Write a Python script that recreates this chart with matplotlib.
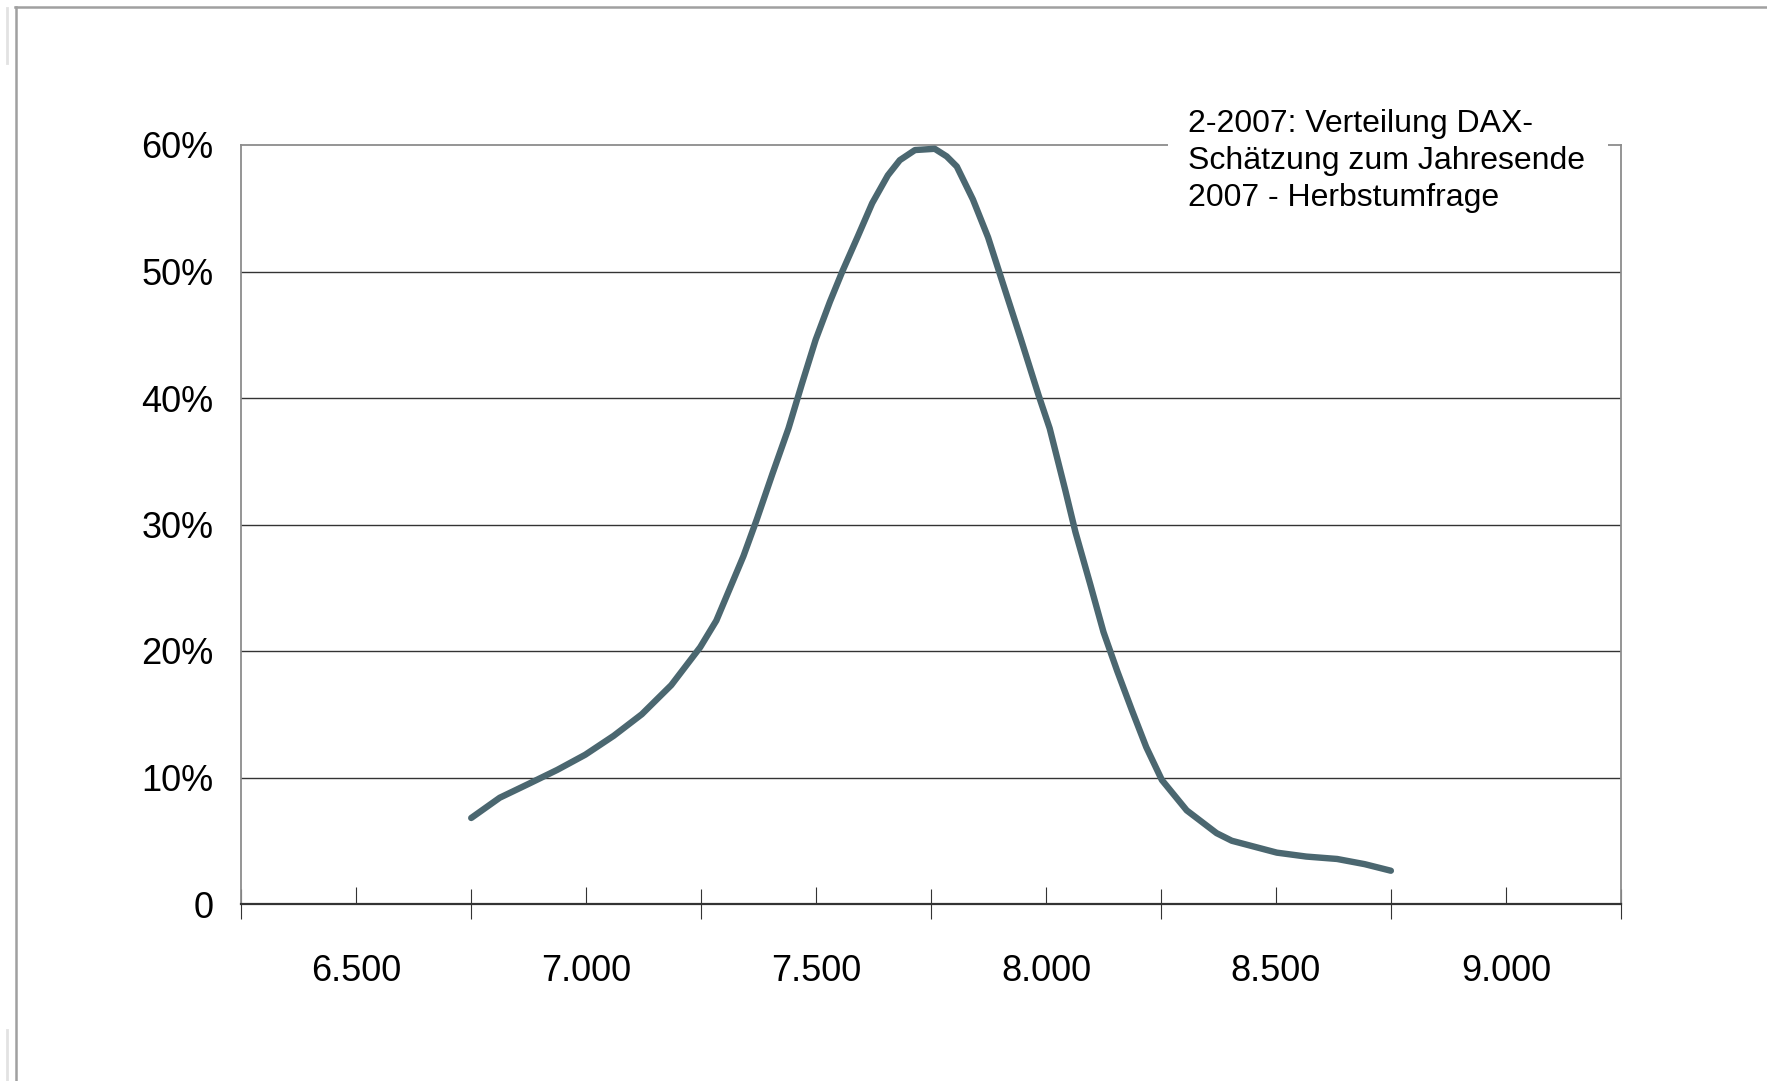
import matplotlib.pyplot as plt
from matplotlib.lines import Line2D
from matplotlib.patches import Rectangle

# DAX-Schätzungen (Indexstand) und Anteil der Nennungen in %
dax_stand = [6750, 6812, 6875, 6937, 6998, 7060, 7121, 7185, 7248,
             7283, 7342, 7371, 7405, 7440, 7469, 7499, 7530, 7557, 7591,
             7622, 7656, 7682, 7715, 7758, 7784, 7806, 7841, 7874, 7905,
             7945, 7984, 8008, 8042, 8064, 8096, 8125, 8155, 8187, 8218,
             8252, 8306, 8371, 8404, 8502, 8566, 8633, 8693, 8750]
anteil = [6.8, 8.4, 9.5, 10.6, 11.8, 13.3, 15.0, 17.3, 20.3,
          22.4, 27.5, 30.4, 34.0, 37.6, 41.1, 44.6, 47.6, 50.0, 52.8,
          55.4, 57.6, 58.8, 59.6, 59.7, 59.1, 58.3, 55.7, 52.7, 49.2,
          44.7, 40.2, 37.6, 32.7, 29.4, 25.3, 21.5, 18.4, 15.3, 12.4,
          9.8, 7.4, 5.6, 5.0, 4.06, 3.75, 3.56, 3.15, 2.63]

x_major = [6250, 6750, 7250, 7750, 8250, 8750, 9250]
x_labels_pos = [6500, 7000, 7500, 8000, 8500, 9000]
x_labels = ["6.500", "7.000", "7.500", "8.000", "8.500", "9.000"]
y_ticks = [0, 10, 20, 30, 40, 50, 60]
y_labels = ["0", "10%", "20%", "30%", "40%", "50%", "60%"]

titel = "2-2007: Verteilung DAX-\nSchätzung zum Jahresende\n2007 - Herbstumfrage"

plt.rcParams['font.family'] = ['Liberation Sans', 'DejaVu Sans']

W, H = 1767, 1081
fig = plt.figure(figsize=(W / 100, H / 100), dpi=100)
fig.patch.set_facecolor("white")

ax = fig.add_axes([241.3 / W, 1 - 904 / H, 1379.5 / W, 759 / H])
ax.set_xlim(6250, 9250)
ax.set_ylim(0, 60)

# Gitterlinien
for y in y_ticks[1:-1]:
    ax.axhline(y, color="#333333", lw=1.0, zorder=1)

ax.plot(dax_stand, anteil, color="#4b6770", lw=4.6, solid_capstyle="round",
        solid_joinstyle="round", zorder=3)

for s in ["left", "right", "top"]:
    ax.spines[s].set_color("#8c8c8c")
    ax.spines[s].set_linewidth(1.3)
ax.spines["bottom"].set_color("#333333")
ax.spines["bottom"].set_linewidth(1.6)

ax.set_xticks(x_major)
ax.set_xticklabels([""] * len(x_major))
ax.set_xticks(x_labels_pos, minor=True)
ax.set_xticklabels(x_labels, minor=True, fontsize=26)
ax.tick_params(axis="x", which="major", direction="inout", length=22,
               width=0.8, color="#333333")
ax.tick_params(axis="x", which="minor", direction="in", length=12,
               width=0.8, color="#333333", pad=36)

ax.set_yticks(y_ticks)
ax.set_yticklabels(y_labels, fontsize=26)
ax.tick_params(axis="y", length=0, pad=20)

# Rahmen um die Grafik
def px_line(x0, y0, x1, y1, color, lw):
    fig.add_artist(Line2D([x0 / W, x1 / W], [1 - y0 / H, 1 - y1 / H],
                          transform=fig.transFigure, color=color, lw=lw))

px_line(15, 7, W, 7, "#a0a0a0", 1.8)
px_line(16, 7, 16, H, "#a0a0a0", 1.8)
px_line(7, 8, 7, 63, "#e2e2e2", 2.0)
px_line(7, 1030, 7, H, "#e2e2e2", 2.0)

# Textfeld mit weißem Hintergrund über der oberen Linie
fig.add_artist(Rectangle((1168 / W, 1 - 230 / H), 440 / W, 140 / H,
                         transform=fig.transFigure, facecolor="white",
                         edgecolor="none", zorder=5))
fig.text(1188 / W, 1 - 109 / H, titel, ha="left", va="top", fontsize=23,
         linespacing=1.31, zorder=6)

fig.savefig("out.png", dpi=100)
